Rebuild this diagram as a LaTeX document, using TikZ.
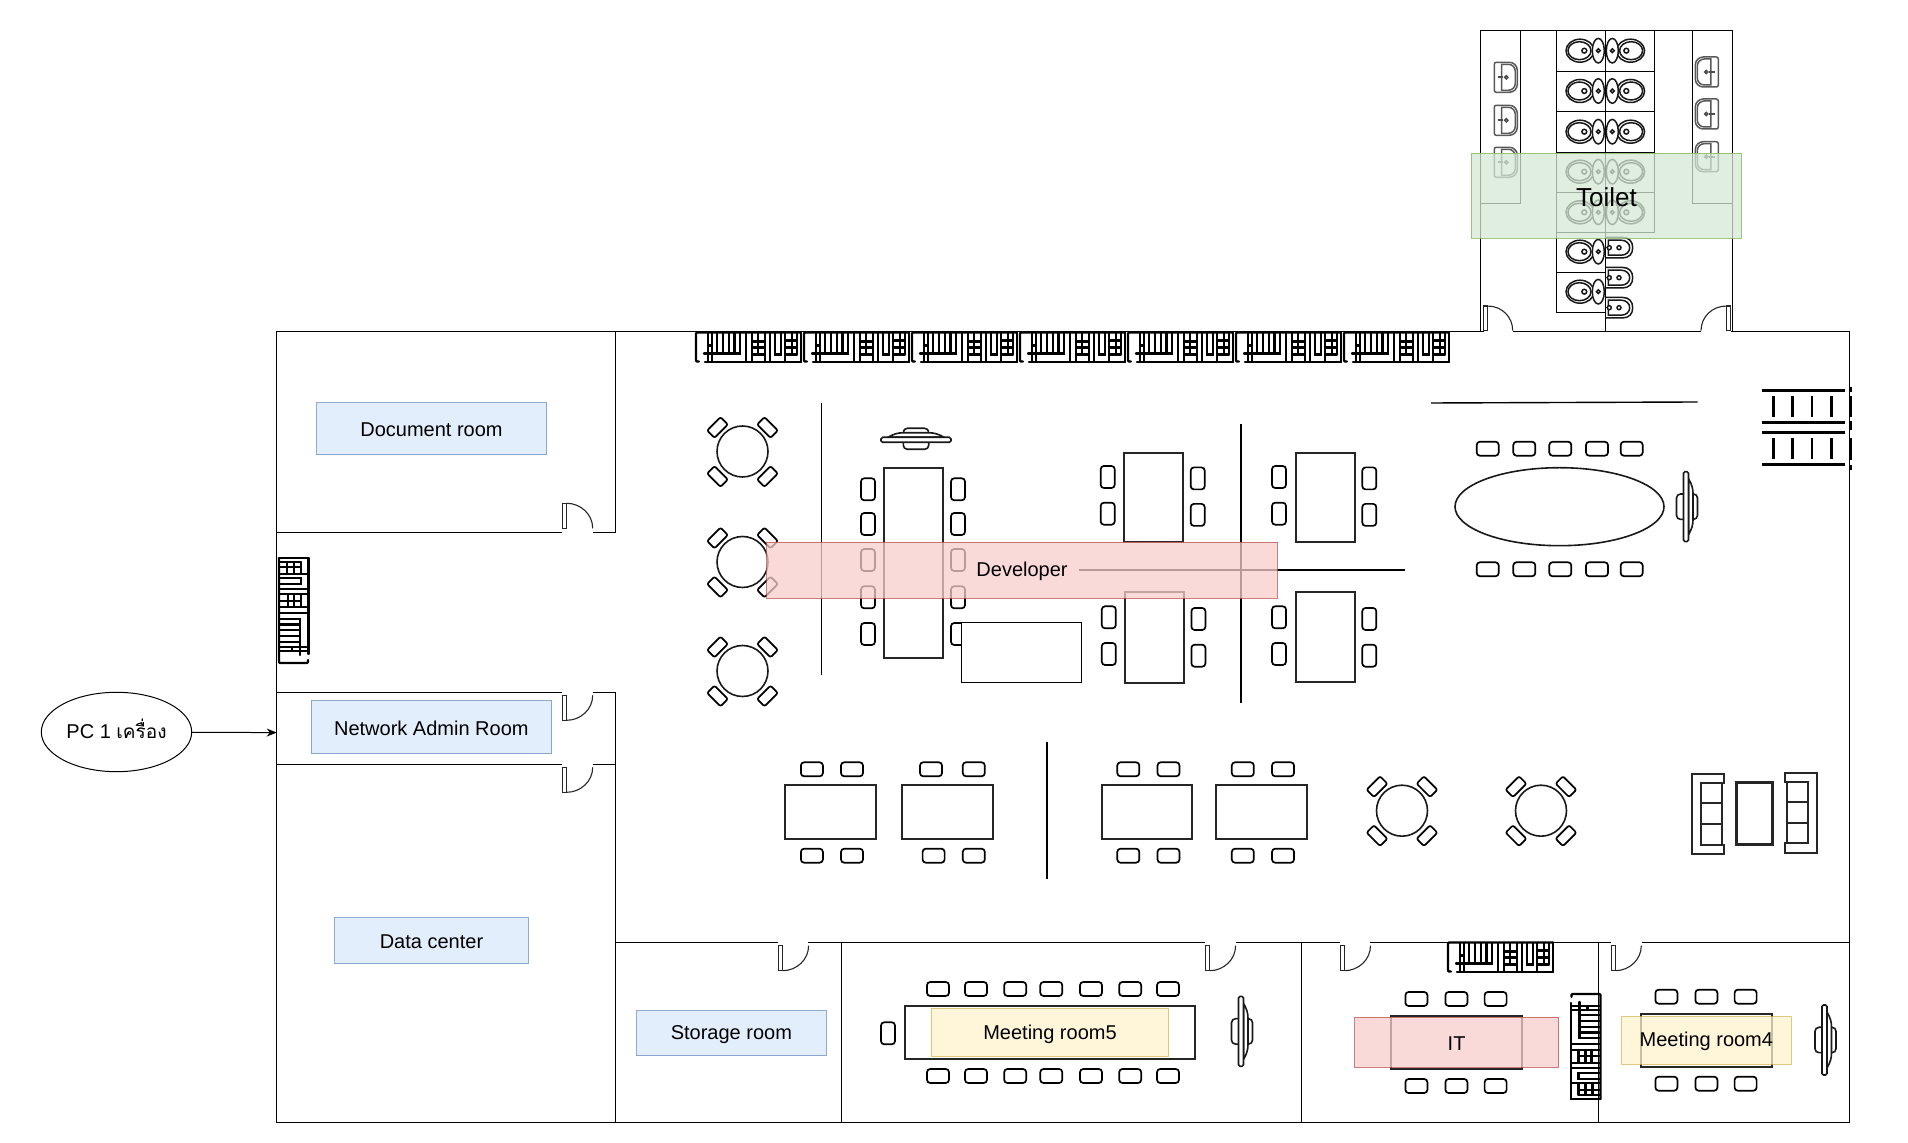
\documentclass[tikz,border=0pt]{standalone}
\usepackage{fontspec}
\setmainfont{Liberation Sans}
\newfontfamily\thaifont[Script=Thai]{Loma}
\usetikzlibrary{arrows.meta,calc,shapes.geometric}
\tikzset{
  wall/.style={line width=0.5pt,draw=black},
  furn/.style={line width=0.8pt,draw=black!90,fill=white},
  tablest/.style={line width=0.95pt,draw=black!85,fill=white},
  seat/.style={line width=0.85pt,draw=black,fill=white,rounded corners=1.6pt},
  doorst/.style={line width=0.55pt,draw=black!85},
  fixture/.style={line width=0.75pt,draw=black!90},
  shelfst/.style={line width=1.15pt,draw=black,line cap=round},
  overlay box/.style n args={2}{line width=0.5pt,draw=#1,fill=#2,fill opacity=.75,draw opacity=.75,text opacity=1,font=\fontsize{10}{12}\selectfont,text=black,every node/.append style={yshift=-0.6pt}},
  roombox/.style={overlay box={blue1}{blue2}},
  redbox/.style={overlay box={red1}{red2}},
  yelbox/.style={overlay box={yel1}{yel2}},
  grnbox/.style={overlay box={grn1}{grn2}},
}
\definecolor{blue1}{HTML}{6C8EBF}\definecolor{blue2}{HTML}{DAE8FC}
\definecolor{red1}{HTML}{B85450}\definecolor{red2}{HTML}{F8CECC}
\definecolor{yel1}{HTML}{D6B656}\definecolor{yel2}{HTML}{FFF2CC}
\definecolor{grn1}{HTML}{82B366}\definecolor{grn2}{HTML}{D5E8D4}
\newcommand\chH[2]{\draw[seat] ({#1-11},{#2-7}) rectangle ({#1+11},{#2+7});}
\newcommand\chV[2]{\draw[seat] ({#1-7},{#2-11}) rectangle ({#1+7},{#2+11});}
\newcommand\rtable[2]{%
  \begin{scope}[shift={(#1,#2)}]
    \draw[furn] (0,0) circle[radius=25.5];
    \foreach \dx/\dy/\ang in {-25/-24/45,25/-24/-45,-25/25/-45,25/25/45}{
      \begin{scope}[shift={(\dx,\dy)},rotate=\ang]
        \draw[seat,rounded corners=1pt] (-9.5,-5.2) rectangle (9.5,5.2);
      \end{scope}}
  \end{scope}}
\newcommand\tvset[3]{%
  \begin{scope}[shift={(#1,#2)},rotate=#3]
    \draw[furn,rounded corners=2pt] (-12.7,-11.5) rectangle (12.7,9.5);
    \draw[furn] (-28,-2.5) .. controls (-22,-6) and (-18,-7) .. (-13,-7) -- (13,-7) .. controls (18,-7) and (22,-6) .. (28,-2.5) -- cycle;
    \draw[furn,rounded corners=0.8pt] (-35,-2.5) rectangle (35,2.5);
  \end{scope}}
\newcommand\doorUp[2]{%
  \draw[doorst] (#1,{#2-29}) rectangle ({#1+4},{#2-4});
  \draw[doorst] ({#1+4},{#2-29}) .. controls ({#1+18},{#2-29}) and ({#1+30},{#2-18}) .. ({#1+30},{#2-4});}
\newcommand\doorDn[2]{%
  \draw[doorst] (#1,{#2+3}) rectangle ({#1+4},{#2+28});
  \draw[doorst] ({#1+4},{#2+28}) .. controls ({#1+18},{#2+28}) and ({#1+30},{#2+17}) .. ({#1+30},{#2+3});}
\newcommand\wc[3]{%
  \begin{scope}[shift={(#1,#2)},xscale=#3]
    \draw[fixture] (-25.3,0) ellipse[x radius=14,y radius=11.5];
    \draw[fixture] (-25.8,0) ellipse[x radius=11.5,y radius=9];
    \draw[fixture] (-21,0) circle[radius=2.4];
    \draw[fixture,fill=white] (-7,0) ellipse[x radius=6,y radius=12.3];
    \draw[fixture] (-7,0) circle[radius=1.9];
  \end{scope}}
\newcommand\bidet[2]{%
  \begin{scope}[shift={(#1,#2)}]
    \draw[fixture] (0,-10.3) -- (17,-10.3) .. controls (24,-10.3) and (27.4,-6) .. (27.4,0) .. controls (27.4,6) and (24,10.3) .. (17,10.3) -- (0,10.3);
    \draw[fixture] (3,-7.5) -- (16,-7.5) .. controls (21,-7.5) and (24.4,-4) .. (24.4,0) .. controls (24.4,4) and (21,7.5) .. (16,7.5) -- (3,7.5) -- cycle;
    \draw[fixture] (0,0) -- (2,0);
    \draw[fixture,fill=white] (4,0) circle[radius=2];
    \draw[fixture,fill=white] (13.7,0) circle[radius=2];
  \end{scope}}
\newcommand\sinkb[3]{%
  \begin{scope}[shift={(#1,#2)},xscale=#3]
    \draw[fixture,draw=black!65,rounded corners=1pt] (0,-15) [rounded corners=4pt] -- (23,-15) -- (23,15) [rounded corners=1pt] -- (0,15) -- cycle;
    \draw[fixture,draw=black!65] (7.4,-13) [rounded corners=3.5pt] -- (21,-13) -- (21,13) [sharp corners] -- (7.4,13) -- cycle;
    \draw[line width=1pt,draw=black!70] (3.4,0) -- (9,0);
    \draw[fixture,draw=black!70,fill=white] (12,0) circle[radius=1.6];
  \end{scope}}
\newcommand\shelfunit[3]{%
  \begin{scope}[shift={(#1,#2)},rotate=#3]
    \draw[shelfst] (0,28) -- (0,1) -- (1,0) -- (105,0);
    \draw[shelfst] (0,28) -- (1,29) -- (3,29);
    \draw[shelfst] (9,29.5) -- (105,29.5);
    \draw[shelfst] (12,1) -- (12,29) (16,1) -- (16,29) (12,13) -- (16,13) (8,21) -- (20,21);
    \draw[shelfst] (21,1) -- (21,21) -- (44,21) -- (44,1) (27,1) -- (27,21) (33,1) -- (33,21) (38.5,1) -- (38.5,21);
    \draw[shelfst] (50,1) -- (50,29) (56,1) -- (56,29) (69,1) -- (69,29);
    \draw[shelfst] (56,9) -- (69,9) (56,15) -- (69,15) (56,22) -- (69,22) (62,1) -- (62,22);
    \draw[shelfst] (74,1) -- (74,29) (79,1) -- (79,22) -- (85,22) -- (85,1);
    \draw[shelfst] (89,1) -- (89,29) (105,0) -- (105,29.5);
    \draw[shelfst] (89,8) -- (101,8) (89,15) -- (101,15) (89,22) -- (101,22) (96,1) -- (96,22) (101,1) -- (101,22);
  \end{scope}}
\begin{document}
\begin{tikzpicture}[x=0.5pt,y=-0.5pt,font=\fontsize{10}{12}\selectfont]
\useasboundingbox (0,0) rectangle (1908,1143);
% ===== toilet block =====
\draw[wall] (1480,332) -- (1480,30.7) -- (1732.3,30.7) -- (1732.3,332);
\draw[wall] (1480,203.3) -- (1520.3,203.3) -- (1520.3,30.7);
\draw[wall] (1732.3,203.3) -- (1692,203.3) -- (1692,30.7);
\draw[wall] (1556.3,30.7) -- (1556.3,312.3) -- (1605.3,312.3);
\draw[wall] (1654.7,30.7) -- (1654.7,232.3) -- (1605.3,232.3);
\foreach \yy in {71.3,111.3,152.3,192.3}{\draw[wall] (1556.3,\yy) -- (1654.7,\yy);}
\foreach \yy in {232.3,272.3}{\draw[wall] (1556.3,\yy) -- (1605.3,\yy);}
\draw[wall,line width=0.7pt] (1605.3,30.7) -- (1605.3,332);
\foreach \yy in {50.7,91,131.7,171.7,212.3,251.7,291.7}{\wc{1605.3}{\yy}{1}}
\foreach \yy in {50.7,91,131.7,171.7,212.3}{\wc{1605.3}{\yy}{-1}}
\foreach \yy in {247.7,277.7,307.7}{\bidet{1605.3}{\yy}}
\foreach \yy in {77.3,120.3,162.3}{\sinkb{1494.3}{\yy}{1}}
\foreach \yy in {72,114,156.7}{\sinkb{1718.3}{\yy}{-1}}
\draw[doorst] (1483.3,306) rectangle (1487.3,330.7);
\draw[doorst] (1487.3,306) .. controls (1502,306) and (1512.7,317) .. (1512.7,330.7);
\draw[doorst] (1726.7,306) rectangle (1730.7,330.7);
\draw[doorst] (1726.7,306) .. controls (1712,306) and (1701,317) .. (1701,330.7);
% ===== floor walls =====
\draw[wall] (1484,332) -- (276.7,332) -- (276.7,1122.3) -- (1849,1122.3) -- (1849,332) -- (1731,332);
\draw[wall] (1513,332) -- (1701,332);
\draw[wall] (615.5,332) -- (615.5,532.3) -- (593,532.3);
\draw[wall] (562,532.3) -- (276.7,532.3);
\draw[wall] (276.7,692.3) -- (562,692.3);
\draw[wall] (593,692.3) -- (615.5,692.3) -- (615.5,1122.3);
\draw[wall] (276.7,764.3) -- (562,764.3);
\draw[wall] (593,764.3) -- (615.5,764.3);
\draw[wall] (615.5,942.7) -- (778,942.7);
\draw[wall] (808,942.7) -- (1205,942.7);
\draw[wall] (1236,942.7) -- (1340,942.7);
\draw[wall] (1370,942.7) -- (1611,942.7);
\draw[wall] (1642,942.7) -- (1849,942.7);
\draw[wall] (841.3,942.7) -- (841.3,1122.3);
\draw[wall] (1301.3,942.7) -- (1301.3,1122.3);
\draw[wall] (1598.3,942.7) -- (1598.3,1122.3);
\doorUp{562.7}{532.3}
\doorDn{562.7}{692.3}
\doorDn{562.7}{764.3}
\doorDn{778.6}{942.7}
\doorDn{1205.6}{942.7}
\doorDn{1340.5}{942.7}
\doorDn{1611.3}{942.7}
% ===== shelves =====
\foreach \xx in {696,804,912,1020,1128,1236,1344}{\shelfunit{\xx}{332.5}{0}}
\shelfunit{1448}{942.5}{0}
\shelfunit{279}{663}{90}
\shelfunit{1600.5}{994}{-90}
% ===== free-standing lines =====
\draw[wall,line width=0.7pt] (821.3,402.7) -- (821.3,675);
\draw[wall,line width=0.7pt] (1241,423.6) -- (1241,702.7);
\draw[wall,line width=0.7pt] (1046.8,742.5) -- (1046.8,878.8);
\draw[wall,line width=0.7pt] (1431,403) -- (1697.5,402);
% ===== round tables =====
\rtable{742.5}{451.5}
\rtable{742.5}{562}
\rtable{742.5}{671}
\rtable{1402}{810.7}
\rtable{1541}{810.7}
% ===== long table with tv =====
\tvset{916}{439.8}{0}
\draw[tablest] (884,468.3) rectangle (942.7,658.3);
\foreach \yy in {489.3,524,560,597.3,634}{\chV{868}{\yy}\chV{958}{\yy}}
\draw[wall,fill=white] (961.4,622.3) rectangle (1081.3,682.3);
% ===== paired tables =====
\draw[tablest] (1124.3,452.8) rectangle (1183,542.3);
\draw[tablest] (1125,592.3) rectangle (1184,682.7);
\draw[tablest] (1296.3,452.8) rectangle (1354.7,542.3);
\draw[tablest] (1296.3,592.3) rectangle (1354.7,682);
\foreach \yy in {477,513.7}{\chV{1107.7}{\yy}\chV{1279}{\yy}}
\foreach \yy in {478.4,514.9}{\chV{1197.7}{\yy}\chV{1369.3}{\yy}}
\foreach \yy in {617.3,654}{\chV{1108.8}{\yy}\chV{1279}{\yy}}
\foreach \yy in {619,655.7}{\chV{1198.4}{\yy}\chV{1369.3}{\yy}}
% ===== large oval table =====
\draw[furn] (1559.5,506.7) ellipse[x radius=104.5,y radius=39];
\foreach \xx in {1487.7,1524.3,1560.3,1597,1631.7}{\chH{\xx}{448.7}\chH{\xx}{569.3}}
\tvset{1686}{506.7}{-90}
% ===== right wall rack =====
\draw[line width=1.4pt,draw=black] (1762,390.7) -- (1845.3,390.7) (1762,422.7) -- (1845.3,422.7) (1762,432.7) -- (1845.3,432.7) (1762,464.7) -- (1845.3,464.7);
\foreach \xx in {1773.3,1792.7,1812,1831.3}{\draw[line width=1.3pt,draw=black] (\xx,396) -- (\xx,417.3) (\xx,438.3) -- (\xx,459.3);}
\draw[line width=1.4pt,draw=black] (1851,386.7) -- (1851,391.7) (1851,396) -- (1851,417.3) (1851,421) -- (1851,430) (1851,438) -- (1851,460) (1851,465) -- (1851,470);
% ===== bottom row tables =====
\foreach \a/\b in {785/876.4,902/993.2,1101.6/1191.6,1216/1307.3}{\draw[tablest] (\a,785) rectangle (\b,838.7);}
\foreach \xx in {811.9,852,931,973.8,1128.3,1168.5,1242.8,1283}{\chH{\xx}{769.3}}
\foreach \xx in {811.9,852,933.6,973.8,1128.3,1168.5,1242.8,1283}{\chH{\xx}{855.7}}
% ===== sofa set =====
\draw[tablest,line width=1.5pt] (1736.7,782.3) rectangle (1772.3,844.7);
\draw[tablest] (1692.3,774.3) -- (1724,774.3) -- (1724,782.7) -- (1701,782.7) -- (1701,845) -- (1724,845) -- (1724,854.3) -- (1692.3,854.3) -- cycle;
\draw[tablest] (1701,782.7) rectangle (1722,845);
\draw[tablest] (1701,803.3) -- (1722,803.3) (1701,824) -- (1722,824);
\draw[tablest] (1816.7,773.3) -- (1785,773.3) -- (1785,782.3) -- (1807.7,782.3) -- (1807.7,843.3) -- (1785,843.3) -- (1785,852.7) -- (1816.7,852.7) -- cycle;
\draw[tablest] (1787,782.3) rectangle (1807.7,843.3);
\draw[tablest] (1787,802.3) -- (1807.7,802.3) (1787,823) -- (1807.7,823);
% ===== meeting room 5 =====
\draw[tablest] (905,1006) rectangle (1195.3,1058.7);
\foreach \xx in {938,976,1015.2,1051.3,1091,1130.2,1168}{\chH{\xx}{989}\chH{\xx}{1076}}
\chV{888}{1033.3}
\tvset{1241}{1031.4}{-90}
% ===== IT =====
\draw[tablest,line width=1.1pt] (1391,1015.7) rectangle (1521.8,1069);
\foreach \xx in {1416.4,1456.4,1495.6}{\chH{\xx}{999}\chH{\xx}{1086}}
% ===== meeting room 4 =====
\draw[tablest,line width=1.1pt] (1640.6,1014) rectangle (1771.8,1066.7);
\foreach \xx in {1666.4,1706.4,1745.6}{\chH{\xx}{996.7}\chH{\xx}{1083.7}}
\tvset{1824.5}{1040}{-90}
% ===== connector behind the Developer label =====
\coordinate (devstart) at (1078.5,570);
\coordinate (devend) at (1404.6,570);
\draw[wall,line width=0.8pt] (devstart) -- (devend);
% ===== labelled overlays =====
\draw[roombox] (316.5,403) rectangle node (docroom) {Document room} (546.5,455);
\draw[roombox] (311,701) rectangle node (netroom) {Network Admin Room} (551.7,754);
\draw[roombox] (334.7,917.8) rectangle node (dcroom) {Data center} (528.3,964);
\draw[roombox] (636.6,1010.7) rectangle node (storeroom) {Storage room} (826.2,1056);
\draw[redbox] (766.9,542.3) rectangle node (devlabel) {Developer} (1277.2,598.3);
\draw[yelbox] (931.2,1008.7) rectangle node (m5) {Meeting room5} (1168.8,1056.7);
\draw[redbox] (1354.5,1017.3) rectangle node (itlabel) {IT} (1558.7,1067.3);
\draw[yelbox] (1621.7,1016.7) rectangle node (m4) {Meeting room4} (1791,1064.3);
\draw[grnbox,font=\fontsize{13}{15}\selectfont] (1471.3,153.3) rectangle node (toilet) {Toilet} (1741.7,238.3);
% ===== PC =====
\node[draw=black,line width=0.5pt,ellipse,minimum width=75.2pt,minimum height=39.7pt,inner sep=0pt,text height=0pt,text depth=0pt] (pc) at (116.5,732) {\raisebox{-3.1pt}{PC 1 {\thaifont\fontsize{9.5}{12}\selectfont เครื่อง}}};
\coordinate (netwall) at (276.7,732.6);
\draw[line width=0.5pt,-{Stealth[length=5pt,width=4pt]}] (pc) -- (netwall);
\end{tikzpicture}
\end{document}
